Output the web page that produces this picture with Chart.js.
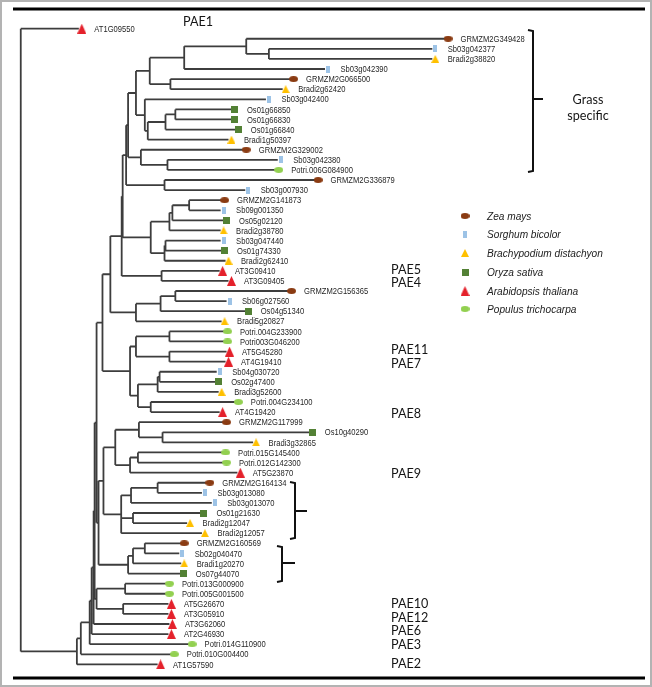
<!DOCTYPE html>
<html>
<head>
<meta charset="utf-8">
<script src="https://cdn.jsdelivr.net/npm/chart.js@4.4.0/dist/chart.umd.min.js"></script>
<style>
  html, body { margin: 0; padding: 0; background: #fff; }
  #wrap { width: 652px; height: 687px; }
</style>
</head>
<body>
<div id="wrap"><canvas id="tree" width="652" height="687"></canvas></div>
<script>
// leaves, top to bottom (row index = position in list)
const leafNames = [
  'AT1G09550', 'GRMZM2G349428', 'Sb03g042377', 'Bradi2g38820', 'Sb03g042390',
  'GRMZM2G066500', 'Bradi2g62420', 'Sb03g042400', 'Os01g66850', 'Os01g66830',
  'Os01g66840', 'Bradi1g50397', 'GRMZM2G329002', 'Sb03g042380', 'Potri.006G084900',
  'GRMZM2G336879', 'Sb03g007930', 'GRMZM2G141873', 'Sb09g001350', 'Os05g02120',
  'Bradi2g38780', 'Sb03g047440', 'Os01g74330', 'Bradi2g62410', 'AT3G09410',
  'AT3G09405', 'GRMZM2G156365', 'Sb06g027560', 'Os04g51340', 'Bradi5g20827',
  'Potri.004G233900', 'Potri003G046200', 'AT5G45280', 'AT4G19410', 'Sb04g030720',
  'Os02g47400', 'Bradi3g52600', 'Potri.004G234100', 'AT4G19420', 'GRMZM2G117999',
  'Os10g40290', 'Bradi3g32865', 'Potri.015G145400', 'Potri.012G142300', 'AT5G23870',
  'GRMZM2G164134', 'Sb03g013080', 'Sb03g013070', 'Os01g21630', 'Bradi2g12047',
  'Bradi2g12057', 'GRMZM2G160569', 'Sb02g040470', 'Bradi1g20270', 'Os07g44070',
  'Potri.013G000900', 'Potri.005G001500', 'AT5G26670', 'AT3G05910', 'AT3G62060',
  'AT2G46930', 'Potri.014G110900', 'Potri.010G004400', 'AT1G57590'
];
// Z Zea, S Sorghum, B Brachypodium, O Oryza, A Arabidopsis, P Populus
const leafSpecies = [
  'A','Z','S','B','S','Z','B','S','O','O',
  'O','B','Z','S','P','Z','S','Z','S','O',
  'B','S','O','B','A','A','Z','S','O','B',
  'P','P','A','A','S','O','B','P','A','Z',
  'O','B','P','P','A','Z','S','S','O','B',
  'B','Z','S','B','O','P','P','A','A','A',
  'A','P','P','A'
];
// tip depth of each leaf (tree distance units)
const tipX = [
  78, 450, 437, 437, 328, 293, 285, 268, 233, 233,
  237, 230, 245, 280, 278, 318, 247, 223, 222, 225,
  222, 222, 223, 227, 221, 230, 291, 228, 247, 223,
  226, 226, 228, 227, 218, 217, 220, 237, 221, 225,
  312, 255, 224, 225, 239, 208, 203, 213, 202, 188,
  203, 182, 180, 182, 181, 167, 167, 169, 169, 170,
  169, 190, 172, 158
];
// internal nodes: [id, depth, children...] (numbers = leaf rows)
const nodes = [
  ['a1', 268, 2, 3], ['a2', 245, 1, 'a1'], ['a3', 182, 'a2', 4],
  ['a4', 168, 5, 6], ['a5', 147, 'a3', 'a4'], ['a6', 173, 8, 9],
  ['a7', 163, 'a6', 10], ['a8', 145, 'a7', 11], ['a9', 142, 7, 'a8'],
  ['a10', 133, 'a5', 'a9'], ['a11', 165, 13, 14], ['a12', 138, 12, 'a11'],
  ['a13', 125, 'a10', 'a12'], ['a14', 162, 15, 16], ['a15', 123, 'a13', 'a14'],
  ['b1', 187, 17, 18], ['b2', 170, 'b1', 19], ['b3', 167, 'b2', 20],
  ['b4', 163, 21, 22], ['b5', 162, 'b4', 23], ['b6', 148, 'b3', 'b5'],
  ['b7', 159, 24, 25], ['g0', 119.5, 'a15', 'b6'], ['g1', 118.5, 'g0', 'b7'],
  ['c1', 173, 26, 27], ['c2', 158, 'c1', 28], ['c3', 133, 'c2', 29],
  ['c4', 167, 30, 31], ['c5', 167, 32, 33], ['c6', 133, 'c4', 'c5'],
  ['c7', 157, 34, 35], ['c8', 155, 'c7', 36], ['c9', 148, 37, 38],
  ['c10', 135, 'c8', 'c9'], ['c11', 127, 'c6', 'c10'],
  ['g2', 107, 'g1', 'c3'], ['g3', 99, 'g2', 'c11'],
  ['d1', 160, 40, 41], ['d2', 136, 39, 'd1'], ['d3', 135, 42, 43],
  ['d4', 127, 'd3', 44], ['d5', 112, 'd2', 'd4'],
  ['e1', 155, 45, 46], ['e2', 128, 'e1', 47], ['e3', 130, 48, 49],
  ['e4', 118, 'e2', 'e3', 50],
  ['f1', 142, 51, 52], ['f2', 130, 'f1', 53], ['f3', 125, 'f2', 54],
  ['g4', 100, 'd5', 'e4'], ['g5', 95, 'g4', 'f3'], ['g6', 93, 'g3', 'g5'],
  ['p1', 122, 55, 56], ['p2', 120, 57, 58], ['p3', 93, 'p1', 'p2'],
  ['g7', 91, 'g6', 'p3'], ['g8', 90, 'g7', 59], ['g9', 88, 'g8', 60],
  ['g10', 86, 'g9', 61], ['g11', 77, 'g10', 62], ['g12', 73, 'g11', 63],
  ['root', 16, 0, 'g12']
];
const speciesOrder = ['Z', 'S', 'B', 'O', 'A', 'P'];
const speciesNames = ['Zea mays', 'Sorghum bicolor', 'Brachypodium distachyon',
  'Oryza sativa', 'Arabidopsis thaliana', 'Populus trichocarpa'];
const paeNames = ['PAE5', 'PAE4', 'PAE11', 'PAE7', 'PAE8', 'PAE9',
  'PAE10', 'PAE12', 'PAE6', 'PAE3', 'PAE2'];

// ---- layout / styles ----
const W = 652, H = 687, ROW = 10.24, TOP = 24;
const paeY = [269, 282, 349, 363, 413, 473, 603, 617, 630, 644, 663];
const legendY = [216, 234, 253, 272, 291, 309];
const markStyle = {
  Z: { shape: 'ellipse', w: 9, h: 6, color: '#8a3b12' },
  S: { shape: 'rect', w: 4, h: 7, color: '#9dc3e6' },
  B: { shape: 'tri', w: 8, h: 8, color: '#ffc000' },
  O: { shape: 'rect', w: 7, h: 7, color: '#538135' },
  A: { shape: 'tri', w: 9, h: 10, color: '#e4212b' },
  P: { shape: 'ellipse', w: 9, h: 6, color: '#92d050' }
};

function markImage(sp) {
  const s = markStyle[sp];
  const c = document.createElement('canvas');
  c.width = s.w; c.height = s.h;
  const g = c.getContext('2d');
  g.fillStyle = s.color;
  g.beginPath();
  if (s.shape === 'ellipse') g.ellipse(s.w / 2, s.h / 2, s.w / 2, s.h / 2, 0, 0, Math.PI * 2);
  else if (s.shape === 'rect') g.rect(0, 0, s.w, s.h);
  else { g.moveTo(s.w / 2, 0); g.lineTo(s.w, s.h); g.lineTo(0, s.h); g.closePath(); }
  g.fill();
  return c;
}
const images = {};
speciesOrder.forEach(sp => images[sp] = markImage(sp));

// node lookup, y = middle of first and last child
const nodeMap = {};
nodes.forEach(n => nodeMap[n[0]] = { x: n[1], kids: n.slice(2) });
function yOf(c) {
  if (typeof c === 'number') return c;
  const n = nodeMap[c];
  if (n.y === undefined) n.y = (yOf(n.kids[0]) + yOf(n.kids[n.kids.length - 1])) / 2;
  return n.y;
}
function xEnd(c) {
  return typeof c === 'number' ? tipX[c] - 3 : nodeMap[c].x;
}

const branchPts = [];
nodes.forEach(n => {
  const node = nodeMap[n[0]];
  const kids = node.kids;
  branchPts.push({ x: node.x, y: yOf(kids[0]) }, { x: node.x, y: yOf(kids[kids.length - 1]) }, { x: node.x, y: null });
  kids.forEach(k => {
    branchPts.push({ x: node.x, y: yOf(k) }, { x: xEnd(k), y: yOf(k) }, { x: node.x, y: null });
  });
});

const datasets = [{
  data: branchPts,
  showLine: true,
  spanGaps: false,
  borderColor: '#3d3d3d',
  borderWidth: 1.8,
  pointRadius: 0,
  order: 2
}];
speciesOrder.forEach(sp => {
  const pts = [];
  leafSpecies.forEach((s, i) => { if (s === sp) pts.push({ x: tipX[i], y: i }); });
  datasets.push({
    data: pts,
    showLine: false,
    pointStyle: images[sp],
    pointRadius: 4,
    order: 1
  });
});

function scaledText(ctx, t, x, y, sx) {
  ctx.save();
  ctx.translate(x, y);
  ctx.scale(sx, 1);
  ctx.fillText(t, 0, 0);
  ctx.restore();
}

const decorations = {
  id: 'decorations',
  afterDatasetsDraw(chart) {
    const { ctx, scales: { x, y } } = chart;
    ctx.save();
    // leaf labels
    ctx.fillStyle = '#262626';
    ctx.textBaseline = 'middle';
    ctx.font = '9.5px "Liberation Sans", Arial, sans-serif';
    leafNames.forEach((name, i) => {
      scaledText(ctx, name, x.getPixelForValue(tipX[i]) + 12.5, y.getPixelForValue(i) + 0.5, 0.8);
    });
    // clade labels
    ctx.fillStyle = '#151515';
    ctx.font = '14px Lato, "Open Sans", sans-serif';
    scaledText(ctx, 'PAE1', 183, 21, 0.9);
    paeNames.forEach((t, i) => scaledText(ctx, t, 391, paeY[i], 0.9));
    ctx.textAlign = 'center';
    scaledText(ctx, 'Grass', 588, 99, 0.9);
    scaledText(ctx, 'specific', 588, 115, 0.9);
    ctx.textAlign = 'left';
    // brackets
    ctx.strokeStyle = '#111';
    ctx.lineWidth = 2;
    const bracket = (bx, y0, y1, ym, tick) => {
      ctx.beginPath();
      ctx.moveTo(bx - 5, y0); ctx.lineTo(bx, y0 + 1); ctx.lineTo(bx, y1 - 1); ctx.lineTo(bx - 5, y1);
      ctx.moveTo(bx, ym); ctx.lineTo(bx + tick, ym);
      ctx.stroke();
    };
    bracket(533, 30, 172, 99, 10);
    bracket(295, 482, 539, 511, 12);
    bracket(282, 546, 582, 563, 13);
    // legend
    ctx.font = 'italic 11px "Liberation Sans", Arial, sans-serif';
    ctx.fillStyle = '#222';
    speciesOrder.forEach((sp, i) => {
      const im = images[sp];
      ctx.drawImage(im, 465 - im.width / 2, legendY[i] - im.height / 2);
      scaledText(ctx, speciesNames[i], 487, legendY[i] + 0.5, 0.92);
    });
    // frame
    ctx.fillStyle = '#000';
    ctx.fillRect(13, 7.5, 632, 3);
    ctx.fillRect(13, 676.5, 632, 3);
    ctx.strokeStyle = '#b3b3b3';
    ctx.lineWidth = 2;
    ctx.strokeRect(1, 1, W - 2, H - 2);
    ctx.restore();
  }
};

new Chart(document.getElementById('tree'), {
  type: 'scatter',
  data: { datasets },
  options: {
    responsive: false,
    animation: false,
    layout: { padding: 0 },
    plugins: { legend: { display: false }, tooltip: { enabled: false } },
    scales: {
      x: { type: 'linear', min: 0, max: W, display: false },
      y: { type: 'linear', min: -TOP / ROW, max: (H - TOP) / ROW, reverse: true, display: false }
    }
  },
  plugins: [decorations]
});
</script>
</body>
</html>
